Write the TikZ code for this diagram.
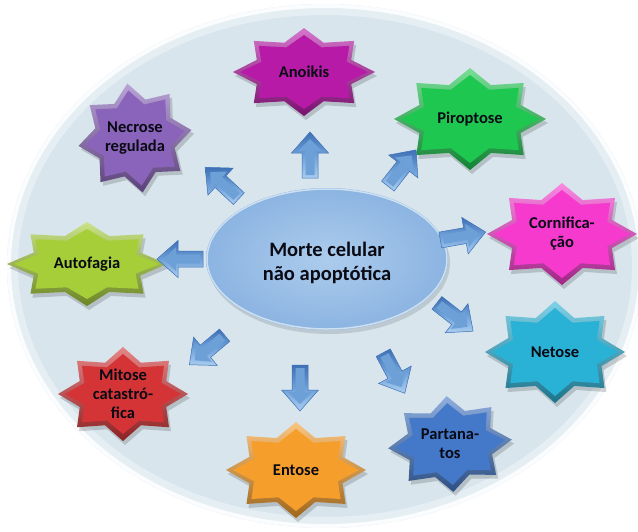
\documentclass[tikz,border=0pt]{standalone}
\usepackage{fontspec}
\setmainfont{Carlito}[BoldFont={Carlito Bold}]
\usetikzlibrary{calc}
\definecolor{bgfill}{RGB}{216,229,237}
\definecolor{centerin}{RGB}{172,204,236}
\definecolor{centerout}{RGB}{140,180,226}
\definecolor{centeredge}{RGB}{205,224,242}
\definecolor{arrowmain}{RGB}{110,160,216}
\definecolor{arrowdark}{RGB}{62,112,182}
\definecolor{arrowlight}{RGB}{170,205,240}
\definecolor{txt}{RGB}{10,10,20}
\definecolor{cAnoikis}{RGB}{184,26,168}
\definecolor{cNecrose}{RGB}{138,100,186}
\definecolor{cPiro}{RGB}{30,200,80}
\definecolor{cCorni}{RGB}{246,58,206}
\definecolor{cNetose}{RGB}{42,178,214}
\definecolor{cPartana}{RGB}{68,120,200}
\definecolor{cEntose}{RGB}{246,158,44}
\definecolor{cMitose}{RGB}{212,52,54}
\definecolor{cAuto}{RGB}{166,206,56}
\tikzset{
  lbl/.style={font=\fontsize{16.5}{19}\selectfont\bfseries, text=txt, align=center, inner sep=0pt},
  ctr/.style={font=\fontsize{20.5}{23.5}\selectfont\bfseries, text=txt, align=center, inner sep=0pt},
  arrowbody/.style={left color=arrowdark, right color=arrowlight, middle color=arrowmain, draw=arrowdark, line width=0.5pt},
}
% star path: rx, ry
\newcommand{\starp}[2]{(90:{#1} and {#2}) \foreach \k [evaluate=\k as \r using {mod(\k,2)==0 ? 1 : 0.72}] in {1,...,15} { -- ({90+22.5*\k}:{\r*(#1)} and {\r*(#2)}) } -- cycle}
% name, cx, cy, rx, ry, rot, color, text
\newcommand{\mystar}[8]{%
  \begin{scope}[shift={(#2,#3)}, rotate=#6]
    \fill[black, opacity=0.16, shift={(2,4)}] \starp{#4}{#5};
    \shade[top color=#7!60!white, bottom color=#7!65!black] \starp{#4}{#5};
    \fill[#7] \starp{#4-7}{#5-7};
  \end{scope}
  \node[lbl] (#1) at (#2,#3) {#8};
}
% name, cx, cy, angle
\newcommand{\blockarrow}[4]{%
  \begin{scope}[shift={(#2,#3)}, rotate=#4]
    \shade[arrowbody, shading angle=0] (-23,-8) -- (2,-8) -- (2,-18.5) -- (23,0) -- (2,18.5) -- (2,8) -- (-23,8) -- cycle;
    \fill[arrowmain] (-20,-4.5) -- (4,-4.5) -- (4,-12) -- (16,0) -- (4,12) -- (4,4.5) -- (-20,4.5) -- cycle;
    \coordinate (#1) at (0,0);
  \end{scope}
}
\begin{document}
\begin{tikzpicture}[x=1pt, y=-1pt]
\useasboundingbox (0,0) rectangle (638,531);
\fill[white] (0,0) rectangle (638,531);
% background ellipse
\fill[bgfill] (325,266) ellipse [x radius=318, y radius=262];
\draw[white, line width=10pt, opacity=0.35] (325,266) ellipse [x radius=312, y radius=256];
\draw[white, line width=4pt, opacity=0.85] (325,266) ellipse [x radius=316, y radius=260];
% center ellipse
\fill[black, opacity=0.12] (329,263) ellipse [x radius=121, y radius=71];
\shade[inner color=centerin, outer color=centerout] (327,259) ellipse [x radius=121, y radius=71];
\draw[centeredge, line width=1.5pt] (327,259) ellipse [x radius=120, y radius=70];
\node[ctr] (center) at (327,263) {Morte celular\\não apoptótica};
% stars
\mystar{anoikis}{304}{72}{71}{44}{0}{cAnoikis}{Anoikis}
\mystar{necrose}{135}{138}{57}{55}{8}{cNecrose}{Necrose\\regulada}
\mystar{piro}{470}{119}{76}{51}{0}{cPiro}{Piroptose}
\mystar{corni}{562}{234}{75}{51}{0}{cCorni}{Cornifica-\\ção}
\mystar{netose}{555}{352}{70}{51}{0}{cNetose}{Netose}
\mystar{partana}{450}{444}{62}{48}{4}{cPartana}{Partana-\\tos}
\mystar{entose}{296}{470}{70}{48}{0}{cEntose}{Entose}
\mystar{mitose}{123}{394}{65}{47}{0}{cMitose}{Mitose\\catastró-\\fica}
\mystar{auto}{87}{264}{80}{42}{0}{cAuto}{Autofagia}
% arrows
\blockarrow{a1}{310}{155}{90}
\blockarrow{a2}{222}{183}{137}
\blockarrow{a3}{402}{168}{52}
\blockarrow{a4}{463}{236}{10}
\blockarrow{a5}{455}{317}{-38}
\blockarrow{a6}{394}{373}{-62}
\blockarrow{a7}{300}{388}{-90}
\blockarrow{a8}{207}{350}{-140}
\blockarrow{a9}{180}{259}{180}
\end{tikzpicture}
\end{document}
